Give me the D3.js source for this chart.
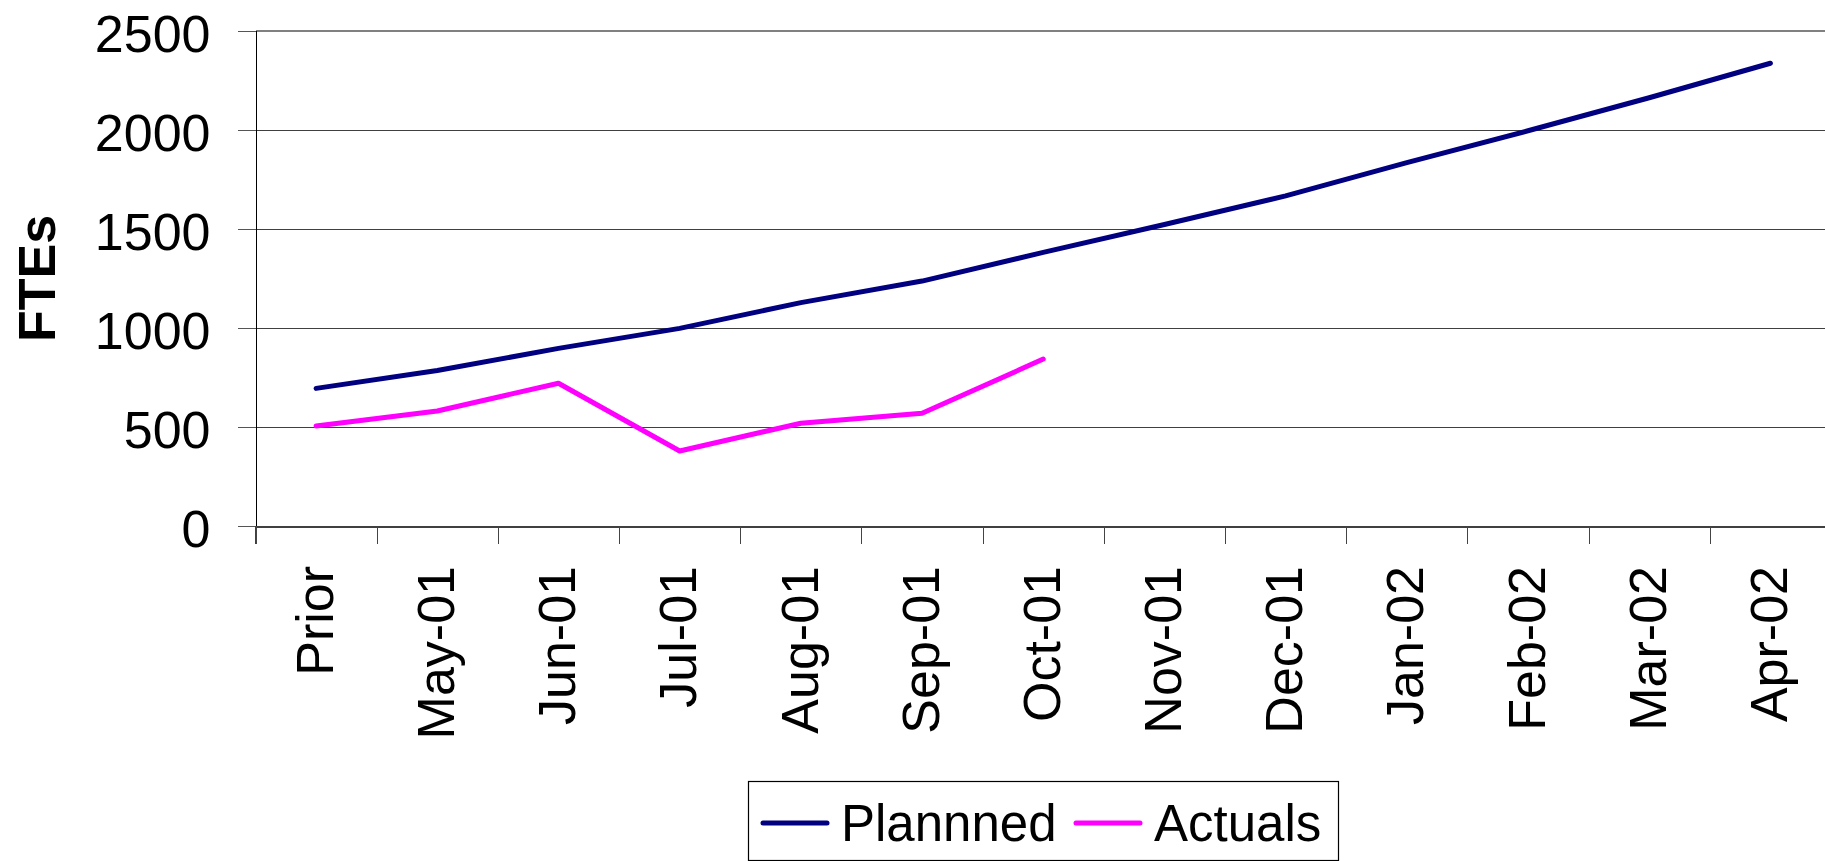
<!DOCTYPE html>
<html>
<head>
<meta charset="utf-8">
<script src="https://cdn.jsdelivr.net/npm/d3@7"></script>
<style>
  body { margin: 0; background: #fff; overflow: hidden; }
  svg { display: block; font-family: "Liberation Sans", Arial, sans-serif; }
</style>
</head>
<body>
<svg id="chart"></svg>
<script>
// chart data
const categories = ["Prior", "May-01", "Jun-01", "Jul-01", "Aug-01", "Sep-01", "Oct-01",
  "Nov-01", "Dec-01", "Jan-02", "Feb-02", "Mar-02", "Apr-02"];
const planned = [695, 785, 897, 998, 1128, 1237, 1382, 1523, 1667, 1835, 1996, 2163, 2337];
const actuals = [505, 581, 721, 379, 519, 569, 843];
const yTicks = [0, 500, 1000, 1500, 2000, 2500];
const seriesNames = ["Plannned", "Actuals"];
const seriesColors = ["#000080", "#ff00ff"];

const width = 1825, height = 861;
const plotLeft = 255.5, plotRight = 1831, plotTop = 31, plotBottom = 526;

const svg = d3.select("#chart").attr("width", width).attr("height", height);

const x = d3.scaleBand().domain(categories).range([plotLeft, plotRight]).padding(0);
const xIdx = d3.scaleLinear().domain([0, categories.length]).range([plotLeft, plotRight]);
const y = d3.scaleLinear().domain([0, 2500]).range([plotBottom, plotTop]);

// gridlines
svg.append("g")
  .attr("shape-rendering", "crispEdges")
  .selectAll("line")
  .data(yTicks.filter(d => d > 0))
  .join("line")
  .attr("x1", plotLeft).attr("x2", plotRight)
  .attr("y1", d => y(d)).attr("y2", d => y(d))
  .attr("stroke", d => d === 2500 ? "#808080" : "#404040")
  .attr("stroke-width", d => d === 2500 ? 2 : 1);

// y axis
const yAxis = svg.append("g")
  .attr("transform", `translate(${plotLeft},0)`)
  .attr("shape-rendering", "crispEdges")
  .call(d3.axisLeft(y).tickValues(yTicks).tickSize(18).tickPadding(27).tickFormat(d3.format("d")));
yAxis.select(".domain").attr("stroke", "#000").attr("stroke-width", 1);
yAxis.selectAll(".tick line").attr("stroke", "#555");
yAxis.selectAll(".tick text")
  .attr("font-size", 52).attr("fill", "#000").attr("dy", "0.4em")
  .attr("font-family", "'Liberation Sans', Arial, sans-serif");

// x axis (ticks between categories)
const xAxis = svg.append("g")
  .attr("transform", `translate(0,${plotBottom})`)
  .attr("shape-rendering", "crispEdges")
  .call(d3.axisBottom(xIdx).tickValues(d3.range(0, categories.length + 1)).tickSize(18).tickFormat(""));
xAxis.select(".domain").attr("stroke", "#404040").attr("stroke-width", 2);
xAxis.selectAll(".tick line").attr("stroke", "#444").attr("stroke-width", 1);

// x labels
svg.append("g")
  .selectAll("text")
  .data(categories)
  .join("text")
  .attr("transform", d => `translate(${x(d) + x.bandwidth() / 2},566) rotate(-90)`)
  .attr("text-anchor", "end")
  .attr("dy", "0.32em")
  .attr("font-size", 52)
  .text(d => d);

// y title
svg.append("text")
  .attr("transform", `translate(55,${(plotTop + plotBottom) / 2}) rotate(-90)`)
  .attr("text-anchor", "middle")
  .attr("font-size", 52)
  .attr("font-weight", "bold")
  .text("FTEs");

// lines
const line = d3.line()
  .x((d, i) => x(categories[i]) + x.bandwidth() / 2)
  .y(d => y(d));

[planned, actuals].forEach((s, i) => {
  svg.append("path")
    .datum(s)
    .attr("fill", "none")
    .attr("stroke", seriesColors[i])
    .attr("stroke-width", 5)
    .attr("stroke-linejoin", "round")
    .attr("stroke-linecap", "round")
    .attr("d", line);
});

// legend
const legend = svg.append("g");
legend.append("rect")
  .attr("x", 748.5).attr("y", 781.5).attr("width", 590).attr("height", 79)
  .attr("fill", "#fff").attr("stroke", "#000").attr("stroke-width", 1.2);

const legendX = [763, 1076];
seriesNames.forEach((name, i) => {
  legend.append("line")
    .attr("x1", legendX[i]).attr("x2", legendX[i] + 64)
    .attr("y1", 823).attr("y2", 823)
    .attr("stroke", seriesColors[i]).attr("stroke-width", 5)
    .attr("stroke-linecap", "round");
  legend.append("text")
    .attr("x", legendX[i] + 78).attr("y", 841)
    .attr("font-size", 51)
    .text(name);
});
</script>
</body>
</html>
